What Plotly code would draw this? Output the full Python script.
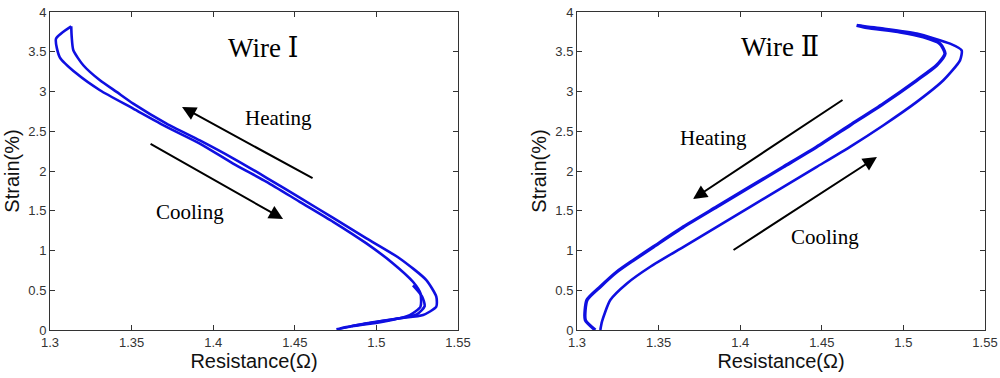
import plotly.graph_objects as go
from plotly.subplots import make_subplots

# Wire I (left panel)
w1_a_res = [1.313, 1.3037, 1.306, 1.3163, 1.3306, 1.351, 1.3714, 1.3918, 1.4122, 1.4327, 1.453, 1.4735, 1.4939, 1.5102, 1.5224, 1.527, 1.527, 1.5204, 1.504, 1.4837, 1.4755]
w1_a_str = [3.82, 3.665, 3.43, 3.225, 3.016, 2.785, 2.555, 2.345, 2.094, 1.864, 1.613, 1.361, 1.089, 0.838, 0.607, 0.461, 0.293, 0.188, 0.105, 0.042, 0.008]
w1_b_res = [1.4776, 1.4939, 1.5143, 1.5286, 1.5367, 1.5367, 1.5306, 1.5143, 1.4939, 1.4735, 1.453, 1.4327, 1.4122, 1.3918, 1.3714, 1.351, 1.3408, 1.3306, 1.3204, 1.3143, 1.3133, 1.313]
w1_b_str = [0.02, 0.084, 0.147, 0.188, 0.293, 0.419, 0.628, 0.9, 1.152, 1.41, 1.665, 1.915, 2.16, 2.385, 2.597, 2.848, 2.995, 3.141, 3.33, 3.518, 3.686, 3.82]
w1_c_res = [1.5224, 1.528, 1.5296, 1.525, 1.515, 1.50, 1.485]
w1_c_str = [0.56, 0.42, 0.3, 0.2, 0.15, 0.1, 0.05]

# Wire II (right panel)
w2_a_res = [1.3112, 1.3051, 1.3061, 1.3143, 1.3245, 1.3347, 1.3469, 1.3653, 1.3857, 1.4061, 1.4265, 1.4469, 1.4673, 1.4878, 1.5082, 1.5204, 1.5255, 1.5224, 1.5122, 1.498, 1.4776, 1.4714]
w2_a_str = [0.0, 0.126, 0.377, 0.545, 0.733, 0.88, 1.047, 1.298, 1.55, 1.801, 2.052, 2.304, 2.576, 2.848, 3.141, 3.33, 3.476, 3.602, 3.686, 3.749, 3.803, 3.832]
w2_b_res = [1.3143, 1.3153, 1.3204, 1.3306, 1.3449, 1.3653, 1.3857, 1.4061, 1.4265, 1.4469, 1.4673, 1.4878, 1.5082, 1.5245, 1.5347, 1.5357, 1.5286, 1.5082, 1.4878, 1.4714]
w2_b_str = [0.0, 0.105, 0.377, 0.586, 0.796, 1.047, 1.298, 1.55, 1.801, 2.052, 2.304, 2.576, 2.869, 3.141, 3.392, 3.518, 3.602, 3.728, 3.791, 3.832]

x_ticks = [1.3, 1.35, 1.4, 1.45, 1.5, 1.55]
y_ticks = [0, 0.5, 1, 1.5, 2, 2.5, 3, 3.5, 4]

blue = "rgb(15,15,225)"
fig = make_subplots(rows=1, cols=2)

for xs, ys in [(w1_a_res, w1_a_str), (w1_b_res, w1_b_str), (w1_c_res, w1_c_str)]:
    fig.add_trace(go.Scatter(x=xs, y=ys, mode="lines", line=dict(color=blue, width=2.6, shape="spline", smoothing=0.6), showlegend=False), row=1, col=1)
for (xs, ys), wd in [((w2_a_res, w2_a_str), 3.4), ((w2_b_res, w2_b_str), 2.6)]:
    fig.add_trace(go.Scatter(x=xs, y=ys, mode="lines", line=dict(color=blue, width=wd, shape="spline", smoothing=0.6), showlegend=False), row=1, col=2)

sans = "Arial, Liberation Sans"
axis_common = dict(
    range=[1.3, 1.55], tickvals=x_ticks, ticktext=[str(v) for v in x_ticks], automargin=False,
    ticks="inside", ticklen=5, tickcolor="#333", mirror="ticks", showline=True, linecolor="#333", linewidth=1,
    showgrid=False, zeroline=False, tickfont=dict(family=sans, size=13, color="#333"),
    title=dict(text="Resistance(Ω)", font=dict(family=sans, size=20, color="#111"), standoff=2),
)
yaxis_common = dict(
    range=[0, 4], tickvals=y_ticks, ticktext=[("%g" % v) for v in y_ticks], automargin=False,
    ticks="inside", ticklen=5, tickcolor="#333", mirror="ticks", showline=True, linecolor="#333", linewidth=1,
    showgrid=False, zeroline=False, tickfont=dict(family=sans, size=13, color="#333"),
    title=dict(text="Strain(%)", font=dict(family=sans, size=20, color="#111"), standoff=3),
)
fig.update_xaxes(**axis_common)
fig.update_yaxes(**yaxis_common)
W, H = 1000, 378
fig.update_layout(
    xaxis=dict(domain=[50 / W, 458 / W]), xaxis2=dict(domain=[577 / W, 985 / W]),
    width=W, height=H, margin=dict(l=0, r=0, t=12, b=48),
    plot_bgcolor="white", paper_bgcolor="white",
)

serif = "Times New Roman, Liberation Serif, DejaVu Serif"
texts = [
    ("x", "y", 1.4305, 3.55, "Wire Ⅰ", 27),
    ("x", "y", 1.4403, 2.67, "Heating", 21),
    ("x", "y", 1.3858, 1.49, "Cooling", 21),
    ("x2", "y2", 1.4244, 3.56, "Wire Ⅱ", 27),
    ("x2", "y2", 1.3839, 2.42, "Heating", 21),
    ("x2", "y2", 1.452, 1.17, "Cooling", 21),
]
for xr, yr, x, y, t, s in texts:
    fig.add_annotation(xref=xr, yref=yr, x=x, y=y, text=t, showarrow=False,
                       font=dict(family=serif, size=s, color="black"))

arrows = [
    ("x", "y", 1.4618, 1.899, 1.3809, 2.805),
    ("x", "y", 1.3607, 2.352, 1.4428, 1.396),
    ("x2", "y2", 1.4636, 2.906, 1.3711, 1.648),
    ("x2", "y2", 1.395, 0.994, 1.4838, 2.176),
]
for xr, yr, x0, y0, x1, y1 in arrows:
    fig.add_annotation(xref=xr, yref=yr, axref=xr, ayref=yr, x=x1, y=y1, ax=x0, ay=y0,
                       text="", showarrow=True, arrowhead=2, arrowsize=1.4, arrowwidth=2, arrowcolor="black")

fig.write_html("out.html", config={"displayModeBar": False},
               post_script="document.body.style.margin='0px';document.body.style.overflow='hidden';")
